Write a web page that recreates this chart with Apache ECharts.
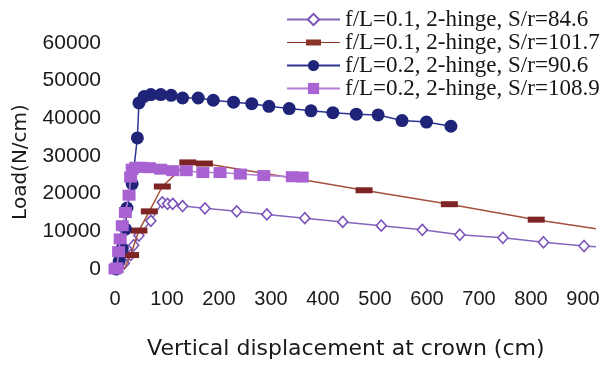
<!DOCTYPE html>
<html>
<head>
<meta charset="utf-8">
<title>Load vs vertical displacement at crown</title>
<script src="https://cdn.jsdelivr.net/npm/echarts@6/dist/echarts.min.js"></script>
<style>
  html, body { margin: 0; padding: 0; background: #ffffff; }
  #chart { width: 609px; height: 365px; }
</style>
</head>
<body>
<div id="chart"></div>
<script>
// Series names (legend labels)
const seriesNames = [
  'f/L=0.1, 2-hinge, S/r=84.6',
  'f/L=0.1, 2-hinge, S/r=101.7',
  'f/L=0.2, 2-hinge, S/r=90.6',
  'f/L=0.2, 2-hinge, S/r=108.9'
];

// f/L=0.1, S/r=84.6  (displacement cm, load N/cm)
const dispA = [5, 18, 30, 36, 46, 69, 91, 101, 111, 130, 173, 234, 292, 365, 438, 512, 591, 663, 746, 824, 902, 925];
const loadA = [0, 1500, 3700, 6300, 8900, 12800, 17700, 17300, 17300, 16700, 16100, 15300, 14500, 13500, 12500, 11500, 10400, 9100, 8300, 7100, 6100, 5900];
const markA = [1, 1, 1, 1, 1, 1, 1, 1, 1, 1, 1, 1, 1, 1, 1, 1, 1, 1, 1, 1, 1, 0];

// f/L=0.1, S/r=101.7
const dispB = [18, 30, 46, 66, 91, 140, 172, 370, 479, 643, 810, 925];
const loadB = [0, 3700, 10200, 15300, 21900, 28300, 28000, 23500, 20900, 17200, 13100, 10700];
const markB = [0, 1, 1, 1, 1, 1, 1, 0, 1, 1, 1, 0];

// f/L=0.2, S/r=90.6
const dispC = [2, 8, 14, 20, 23, 33, 43, 46, 56, 69, 88, 108, 130, 160, 189, 228, 263, 296, 335, 377, 419, 464, 506, 552, 599, 646];
const loadC = [0, 2000, 5500, 10600, 16200, 22600, 34800, 44100, 45800, 46300, 46300, 46100, 45400, 45400, 44800, 44300, 43900, 43200, 42600, 42000, 41500, 41100, 40900, 39400, 39000, 37900];

// f/L=0.2, S/r=108.9
const dispD = [0, 4, 7, 10, 14, 20, 27, 30, 33, 40, 50, 66, 88, 111, 137, 169, 202, 241, 286, 341, 360];
const loadD = [0, 300, 4600, 8000, 11500, 15000, 19600, 24400, 26500, 27000, 27000, 26900, 26500, 26100, 26100, 25600, 25600, 25200, 24800, 24500, 24400];

// Axis ticks
const xTicks = [0, 100, 200, 300, 400, 500, 600, 700, 800, 900];
const yTicks = [0, 10000, 20000, 30000, 40000, 50000, 60000];

function pairs(xs, ys, marks) {
  return xs.map(function (x, i) {
    const item = { value: [x, ys[i]] };
    if (marks && !marks[i]) { item.symbol = 'none'; }
    return item;
  });
}

// Legend icon for the S/r=101.7 curve: a thin line with a flat bar in the middle.
// The two tiny corner squares pin the icon box to the full 53x14 legend cell.
const flatBarIcon = 'path://M0 0H0.01V0.01H0Z M52.99 13.99H53V14H52.99Z ' +
  'M0 6.4H53V7.6H0Z M19 4H34V10H19Z';

const chart = echarts.init(document.getElementById('chart'), null, { renderer: 'canvas' });

const option = {
  backgroundColor: '#ffffff',
  animation: false,
  grid: { left: 115, right: 10.4, top: 43, bottom: 84 },
  legend: {
    left: 281,
    top: 3,
    orient: 'vertical',
    itemWidth: 53,
    itemHeight: 14,
    itemGap: 0,
    itemTextGap: 5,
    textStyle: {
      fontFamily: '"Liberation Serif", "Times New Roman", serif',
      fontSize: 23,
      lineHeight: 20,
      color: '#151515'
    },
    data: [
      { name: seriesNames[0] },
      { name: seriesNames[1], icon: flatBarIcon, itemStyle: { color: '#8a3428' } },
      { name: seriesNames[2] },
      { name: seriesNames[3] }
    ]
  },
  xAxis: {
    type: 'value',
    min: 0,
    max: 930,
    interval: 100,
    name: 'Vertical displacement at crown (cm)',
    nameLocation: 'middle',
    nameGap: 69,
    nameTextStyle: {
      fontFamily: '"DejaVu Sans", sans-serif',
      fontSize: 22,
      color: '#1a1a1a',
      padding: [0, 22, 0, 0]
    },
    axisLine: { show: false },
    axisTick: { show: false },
    splitLine: { show: false },
    axisLabel: {
      margin: 20,
      fontFamily: '"Liberation Sans", Arial, sans-serif',
      fontSize: 20,
      color: '#1a1a1a',
      formatter: function (v) { return xTicks.indexOf(v) >= 0 ? String(v) : ''; }
    }
  },
  yAxis: {
    type: 'value',
    min: 0,
    max: 60000,
    interval: 10000,
    name: 'Load(N/cm)',
    nameLocation: 'middle',
    nameGap: 84,
    nameRotate: 90,
    nameTextStyle: {
      fontFamily: '"DejaVu Sans", sans-serif',
      fontSize: 20,
      color: '#1a1a1a',
      padding: [0, 12, 0, 0]
    },
    axisLine: { show: false },
    axisTick: { show: false },
    splitLine: { show: false },
    axisLabel: {
      margin: 14,
      fontFamily: '"Liberation Sans", Arial, sans-serif',
      fontSize: 21,
      color: '#1a1a1a',
      formatter: function (v) { return yTicks.indexOf(v) >= 0 ? String(v) : ''; }
    }
  },
  series: [
    {
      name: seriesNames[0],
      type: 'line',
      data: pairs(dispA, loadA, markA),
      symbol: 'diamond',
      symbolSize: [10, 11],
      showAllSymbol: true,
      lineStyle: { color: '#8466bd', width: 1.5 },
      itemStyle: { color: '#ffffff', borderColor: '#7a52b8', borderWidth: 1.6 },
      z: 2
    },
    {
      name: seriesNames[1],
      type: 'line',
      data: pairs(dispB, loadB, markB),
      symbol: 'rect',
      symbolSize: [17, 6],
      showAllSymbol: true,
      lineStyle: { color: '#a5503c', width: 1.5 },
      itemStyle: { color: '#7e2424', borderWidth: 0 },
      z: 3
    },
    {
      name: seriesNames[2],
      type: 'line',
      data: pairs(dispC, loadC),
      symbol: 'circle',
      symbolSize: 13,
      showAllSymbol: true,
      lineStyle: { color: '#2b3490', width: 1.5 },
      itemStyle: { color: '#1f2479', borderWidth: 0 },
      z: 4
    },
    {
      name: seriesNames[3],
      type: 'line',
      data: pairs(dispD, loadD),
      symbol: 'rect',
      symbolSize: [13, 11],
      showAllSymbol: true,
      lineStyle: { color: '#b47fd8', width: 1.5 },
      itemStyle: { color: '#a862d2', borderWidth: 0 },
      z: 5
    }
  ]
};

chart.setOption(option);
</script>
</body>
</html>
